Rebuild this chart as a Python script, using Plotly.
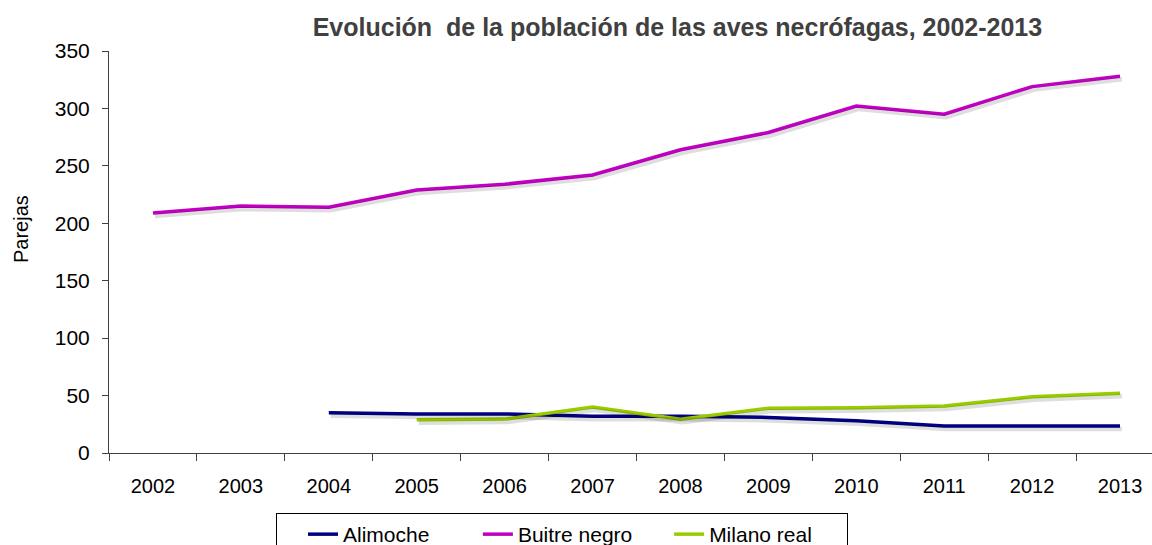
import plotly.graph_objects as go

years = ["2002", "2003", "2004", "2005", "2006", "2007", "2008", "2009", "2010", "2011", "2012", "2013"]
alimoche = [None, None, 35, 34, 34, 32, 32, 31, 28, 23.5, 23.5, 23.5]
buitre_negro = [209, 215, 214, 229, 234, 242, 264, 279, 302, 295, 319, 328]
milano_real = [None, None, None, 29, 29.5, 40, 29.5, 39, 39.5, 41, 49, 52]

series = [
    ("Alimoche", alimoche, "#000080", 3),
    ("Buitre negro", buitre_negro, "#C000C0", 1),
    ("Milano real", milano_real, "#99CC00", 5),
]

FONT = "Arial, Liberation Sans, sans-serif"

# plot area geometry (pixels)
L, R, T, B = 109, 0, 51, 92
W, H = 1152, 545
PW, PH = W - L - R, H - T - B
XMAX = 11.5 - 12 / 88
YMAX = 350
DX, DY = 2, 3  # shadow offset
xscale = PW / (XMAX + 0.5)
yscale = PH / YMAX

fig = go.Figure()
# soft drop shadows drawn on offset axes
for name, vals, color, pad in series:
    fig.add_trace(go.Scatter(
        x=years, y=vals, mode="lines", showlegend=False, hoverinfo="skip",
        line=dict(color="rgba(0,0,0,0.13)", width=4.5),
        xaxis="x2", yaxis="y2", connectgaps=False,
    ))
for name, vals, color, pad in series:
    fig.add_trace(go.Scatter(
        x=years, y=vals, name=name + "\u00a0" * pad, mode="lines",
        line=dict(color=color, width=3.5),
        connectgaps=False,
    ))

fig.update_layout(
    width=W, height=H,
    margin=dict(l=L, r=R, t=T, b=B, autoexpand=False),
    paper_bgcolor="white", plot_bgcolor="rgba(0,0,0,0)",
    font=dict(family=FONT, size=20, color="black"),
    title=dict(
        text="<b>Evolución  de la población de las aves necrófagas, 2002-2013</b>",
        x=0.545, xref="paper", xanchor="center",
        y=1 - 27 / H, yref="container", yanchor="middle",
        font=dict(family=FONT, size=25, color="#404040"),
    ),
    showlegend=True,
    legend=dict(
        orientation="h",
        x=(276 - L) / PW, xanchor="left",
        y=(453 - 513) / PH, yanchor="top",
        bordercolor="black", borderwidth=1,
        bgcolor="white",
        indentation=26,
        font=dict(family=FONT, size=21, color="black"),
    ),
    annotations=[dict(
        text="Parejas", textangle=-90,
        xref="paper", x=(21 - L) / PW, xanchor="center",
        yref="paper", y=(453 - 229) / PH, yanchor="middle",
        showarrow=False,
        font=dict(family=FONT, size=20, color="black"),
    )],
    xaxis=dict(
        type="category",
        range=[-0.5, XMAX],
        automargin=False, fixedrange=True,
        showline=True, linecolor="#404040", linewidth=1,
        ticks="outside", ticklen=7, tickcolor="#404040",
        tickson="boundaries",
        showgrid=False, zeroline=False,
        tickfont=dict(family=FONT, size=20, color="black"),
        ticklabelstandoff=15,
    ),
    yaxis=dict(
        range=[0, YMAX], dtick=50,
        automargin=False, fixedrange=True,
        showline=True, linecolor="#404040", linewidth=1,
        ticks="outside", ticklen=6, tickcolor="#404040",
        showgrid=False, zeroline=False,
        tickfont=dict(family=FONT, size=21, color="black"),
        ticklabelstandoff=8,
    ),
    xaxis2=dict(
        type="category", domain=[DX / PW, 1], range=[-0.5, XMAX - DX / xscale],
        visible=False, anchor="y2", fixedrange=True,
    ),
    yaxis2=dict(
        domain=[0, 1 - DY / PH], range=[DY / yscale, YMAX],
        visible=False, anchor="x2", fixedrange=True,
    ),
)

fig.write_html(
    "out.html",
    config={"displayModeBar": False},
    post_script="document.body.style.margin='0';document.body.style.padding='0';",
)
